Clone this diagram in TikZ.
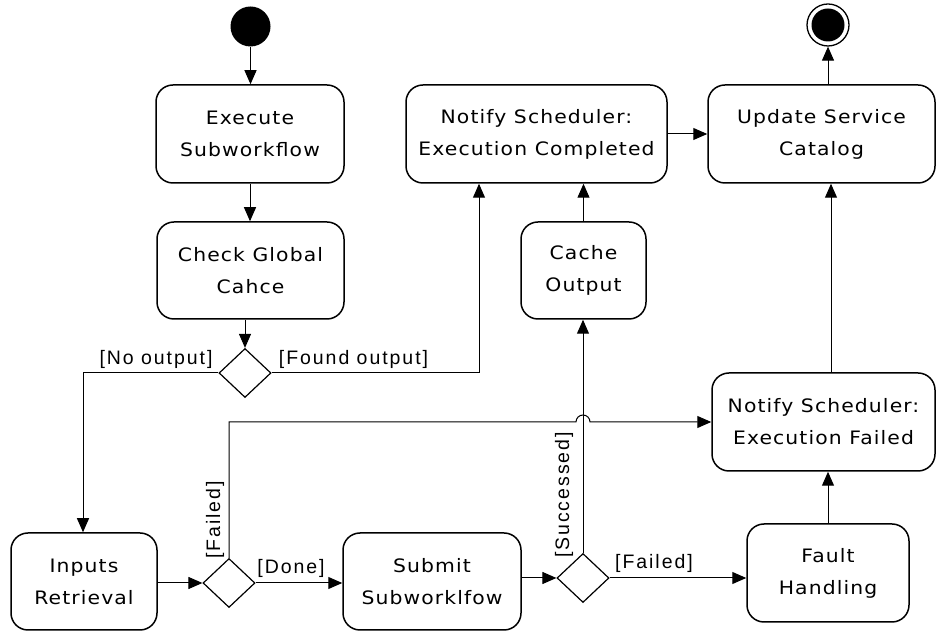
\documentclass[tikz,border=0pt]{standalone}
\usepackage{fontspec}
\usetikzlibrary{shapes.geometric,arrows.meta}
\newfontfamily\handfont{DejaVu Sans}[FakeStretch=1.1,LetterSpace=6]
\newfontfamily\guardfont{Liberation Sans}[LetterSpace=10]
\tikzset{
  action/.style={draw, line width=1.5pt, rounded corners=17pt, align=center,
    inner sep=0pt, font=\handfont\fontsize{18.5}{32}\selectfont},
  decision/.style={draw, line width=1.2pt, diamond, minimum width=52pt,
    minimum height=49pt, inner sep=0pt},
  conn/.style={line width=1pt, -{Triangle[length=14pt,width=12pt]}},
  guard/.style={inner sep=0pt, font=\guardfont\fontsize{19.5}{22}\selectfont},
}
\begin{document}
\begin{tikzpicture}[x=1pt,y=1pt]
\useasboundingbox (0,0) rectangle (937,631);

% initial and final nodes
\node[circle, fill=black, minimum size=40pt, inner sep=0pt] (start) at (250.5,604.5) {};
\node[circle, draw, line width=1.3pt, minimum size=42pt, inner sep=0pt] (end) at (828,606) {};
\node[circle, fill=black, minimum size=33pt, inner sep=0pt] (endcore) at (end) {};

% actions
\node[action, minimum width=188pt, minimum height=98pt] (exec) at (250,497) {Execute\\Subworkflow};
\node[action, minimum width=187pt, minimum height=97pt] (check) at (250.5,360.5) {Check Global\\Cahce};
\node[action, minimum width=146pt, minimum height=97pt] (inputs) at (84,49.5) {Inputs\\Retrieval};
\node[action, minimum width=178pt, minimum height=97pt] (submit) at (432,49.5) {Submit\\Subworklfow};
\node[action, minimum width=125pt, minimum height=97pt] (cache) at (583.5,360.5) {Cache\\Output};
\node[action, minimum width=162pt, minimum height=98pt] (fault) at (828,58) {Fault\\Handling};
\node[action, minimum width=223pt, minimum height=98pt] (nfailed) at (823.5,209) {Notify Scheduler:\\Execution Failed};
\node[action, minimum width=261pt, minimum height=98pt] (ncompleted) at (536.5,497) {Notify Scheduler:\\Execution Completed};
\node[action, minimum width=227pt, minimum height=98pt] (update) at (821.5,497) {Update Service\\Catalog};

% decisions
\node[decision] (d1) at (245,258) {};
\node[decision] (d2) at (229,48) {};
\node[decision] (d3) at (583,53) {};

% flows
\draw[conn] (start.south) -- (start.south |- exec.north);
\draw[conn] (exec.south) -- (exec.south |- check.north);
\draw[conn] (d1.north |- check.south) -- (d1.north);
\draw[conn] (d1.west) -| ([xshift=-1pt]inputs.north);
\draw[conn] (d1.east) -| ([xshift=-57.5pt]ncompleted.south);
\draw[conn] (d2.west -| inputs.east) -- (d2.west);
\draw[conn] (d2.east) -- (d2.east -| submit.west);
\draw[conn] (d2.north) |- ([xshift=-7pt]d3.north |- nfailed.west)
  arc[start angle=180, end angle=0, radius=7pt] -- (nfailed.west);
\draw[conn] (d3.west -| submit.east) -- (d3.west);
\draw[conn] (d3.north) -- (d3.north |- cache.south);
\draw[conn] (d3.east) -- (d3.east -| fault.west);
\draw[conn] (fault.north) -- (fault.north |- nfailed.south);
\draw[conn] ([xshift=7.5pt]nfailed.north) -- ([xshift=9.5pt]update.south);
\draw[conn] (cache.north) -- (cache.north |- ncompleted.south);
\draw[conn] (ncompleted.east) -- (update.west);
\draw[conn] (end |- update.north) -- (end.south);

% guards
\node[guard, anchor=base] (gno) at (156,266) {[No output]};
\node[guard, anchor=base] (gfound) at (353.5,266) {[Found output]};
\node[guard, anchor=base] (gdone) at (291,57) {[Done]};
\node[guard, anchor=base] (gfail3) at (654,62) {[Failed]};
\node[guard, rotate=90] (gfail2) at (215,111) {[Failed]};
\node[guard, rotate=90] (gsucc) at (564,136) {[Successed]};
\end{tikzpicture}
\end{document}
